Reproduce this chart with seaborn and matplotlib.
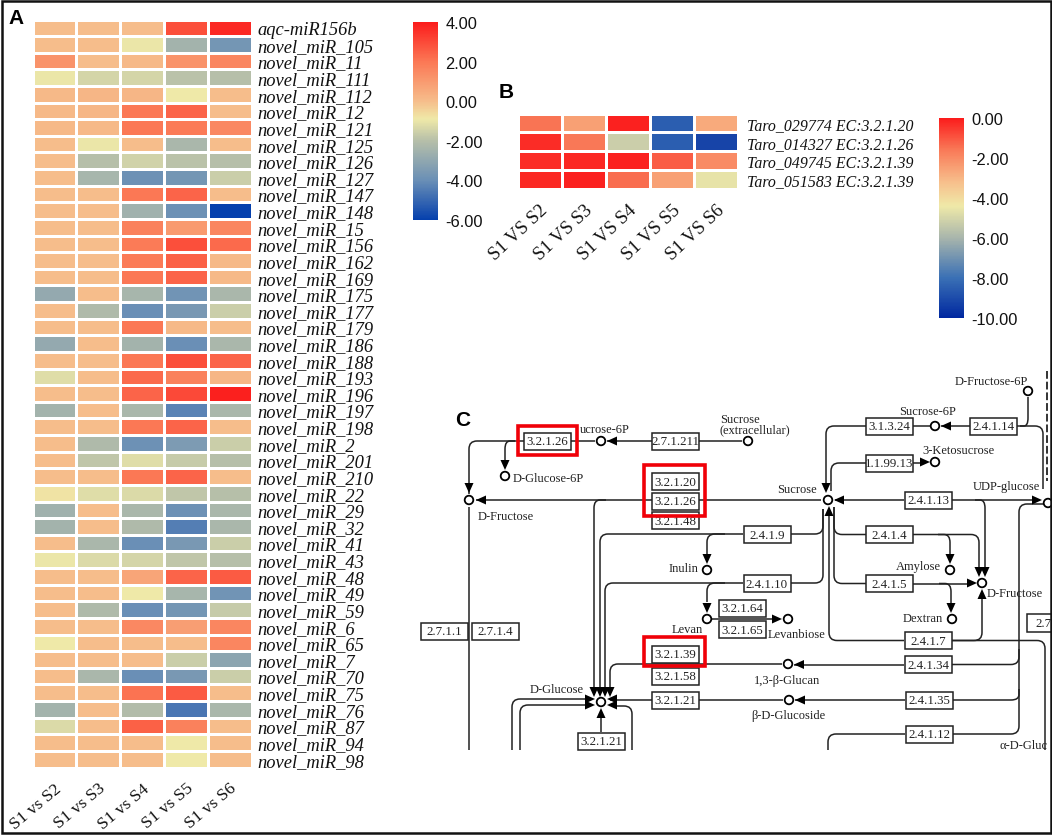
import matplotlib.pyplot as plt
import pandas as pd
import seaborn as sns
from matplotlib.colors import LinearSegmentedColormap
from matplotlib.patches import Circle, PathPatch, Polygon, Rectangle
from matplotlib.path import Path

W, H = 1052, 837

mirnas = ["aqc-miR156b"] + ["novel_miR_" + n for n in [
    "105", "11", "111", "112", "12", "121", "125", "126", "127", "147", "148", "15", "156", "162",
    "169", "175", "177", "179", "186", "188", "193", "196", "197", "198", "2", "201", "210", "22",
    "29", "32", "41", "43", "48", "49", "59", "6", "65", "7", "70", "75", "76", "87", "94", "98"]]
mirna_cols = ["S1 vs S2", "S1 vs S3", "S1 vs S4", "S1 vs S5", "S1 vs S6"]
s2 = [0, 0, 1.2, -1, .1, .1, .1, 0, 0, 0, 0, 0, 0, 0, 0, 0, -2.9, 0, 0, -2.9, 0, -1.2, 0, -2.5, 0, 0, 0, 0, -.8,
      -2.6, -2.5, 0, -1, 0, 0, 0, 0, -.9, 0, 0, 0, -2.5, -1.3, 0, 0]
s3 = [0, 0, 0, -1.4, .2, .2, .1, -1, -2, -2.4, 0, 0, 0, 0, 0, 0, 0, -2.2, 0, 0, 0, 0, 0, 0, 0, -2.2, -1.8, 0, -1.2,
      0, 0, -2.3, -1.3, 0, 0, -2.2, 0, 0, 0, -2.3, 0, 0, 0, 0, 0]
s4 = [0, -1, .1, -1.4, .2, 2, 2, 0, -1.5, -3.9, 2, -2.6, 1.7, 1.9, 1.9, 2, -2.4, -4, 2, -2.5, 2, 2.3, 2.4, -2.3, 2,
      -3.9, -1.2, 2, -1.3, -2.3, -2.2, -4, -1.4, .7, -.9, -4, 1.5, 0, 0, -4, 2.1, -2.1, 2.5, 0, 0]
s5 = [2.9, -2.5, 1.2, -1.9, -.9, 2.4, 1.9, -2.3, -1.9, -3.7, 2.4, -3.9, 1, 2.9, 2.5, 2.4, -3.8, -3.6, .1, -4, 2.9,
      1.7, 3, -4.3, 2.4, -3.5, -1.7, 2.4, -1.8, -3.9, -4.4, -3.6, -1.8, 2.4, -2.4, -3.7, .9, 0, -1.6, -3.6, 2.6,
      -4.6, 1.7, -.9, -.9]
s6 = [3.7, -3.7, 1.6, -2, 0, 0, 1.5, 0, -2, -1.6, 0, -6, 1.6, 2.3, .1, .1, -2.3, -1.6, 0, -2.3, 2.4, .2, 3.9, -2.3,
      0, -1.6, -2, 0, -2, -2.3, -2.3, -1.6, -2, 2.6, -3.8, -1.7, 1.6, 1.6, -3.1, -1.6, 0, -2.3, 0, 0, 0]

genes = ["Taro_029774 EC:3.2.1.20", "Taro_014327 EC:3.2.1.26", "Taro_049745 EC:3.2.1.39", "Taro_051583 EC:3.2.1.39"]
gene_cols = ["S1 VS S2", "S1 VS S3", "S1 VS S4", "S1 VS S5", "S1 VS S6"]
g2 = [-1.5, -.3, -.3, -.2]
g3 = [-2.5, -1.6, -.2, -.1]
g4 = [-.1, -5.2, -.1, -1.4]
g5 = [-8.5, -8.5, -1.1, -2.5]
g6 = [-2.7, -9.2, -2.0, -4.6]

# KEGG map of panel C, in pixels of the reference
enzymes = [
    ("3.2.1.26", 547.5, 442), ("2.7.1.211", 675.5, 442), ("3.2.1.20", 675.5, 482.5), ("3.2.1.26", 675.5, 502),
    ("3.2.1.48", 675.5, 521.5), ("2.7.1.1", 444, 632), ("2.7.1.4", 495.5, 632), ("3.2.1.39", 675.5, 655),
    ("3.2.1.58", 675.5, 677), ("3.2.1.21", 675.5, 701), ("3.2.1.21", 601.5, 742), ("3.2.1.64", 742.5, 609),
    ("3.2.1.65", 742.5, 630.5), ("3.1.3.24", 889.5, 427), ("2.4.1.14", 993.5, 427), ("1.1.99.13", 889.5, 464),
    ("2.4.1.13", 928, 501), ("2.4.1.9", 767, 535.5), ("2.4.1.4", 889.5, 535.5), ("2.4.1.10", 767, 584.5),
    ("2.4.1.5", 889.5, 584.5), ("2.4.1.7", 928, 641.5), ("2.4.1.34", 928, 665.5), ("2.4.1.35", 929, 701),
    ("2.4.1.12", 929, 735),
]
compounds = [
    (601, 442), (505, 477), (469, 501), (748, 442), (828, 501), (935, 427), (935, 463), (1028, 392), (1048, 504),
    (707, 571), (950, 571), (982, 584), (952, 620), (707, 620), (788, 620), (788, 665), (789, 701), (601, 703),
]
compound_labels = [
    ("ucrose-6P", 580, 430, "left"), ("D-Glucose-6P", 513, 479, "left"), ("D-Fructose", 478, 517, "left"),
    ("Sucrose\n(extracellular)", 720, 425, "left"), ("Sucrose", 817, 490, "right"), ("Sucrose-6P", 928, 412, "center"),
    ("3-Ketosucrose", 922, 451, "left"), ("D-Fructose-6P", 1028, 382, "right"), ("UDP-glucose", 973, 487, "left"),
    ("Inulin", 698, 569, "right"), ("Amylose", 941, 567, "right"), ("D-Fructose", 987, 594, "left"),
    ("Dextran", 943, 619, "right"), ("Levan", 672, 630, "left"), ("Levanbiose", 768, 635, "left"),
    ("1,3-β-Glucan", 787, 681, "center"), ("β-D-Glucoside", 788, 716, "center"), ("D-Glucose", 584, 690, "right"),
    ("α-D-Gluc", 999, 746, "left"),
]
wires = [
    [(469, 495), (469, 442), (524, 442)], [(571, 442), (595, 442)], [(515, 442), (505, 442), (505, 465)],
    [(699, 442), (742, 442)], [(607, 442), (652, 442)], [(476, 501), (821, 501)], [(469, 508), (469, 751)],
    [(594, 692), (594, 501), (606, 501)], [(600, 692), (600, 535), (743, 535)], [(605, 692), (605, 584), (743, 584)],
    [(610, 692), (610, 665), (782, 665)], [(791, 535), (823, 535), (823, 510)], [(791, 584), (823, 584), (823, 510)],
    [(829, 510), (829, 641.5), (904, 641.5)], [(834, 508), (834, 535.5), (866, 535.5)],
    [(834, 508), (834, 584.5), (866, 584.5)], [(866, 427), (826, 427), (826, 488)], [(866, 464), (831, 464), (831, 492)],
    [(913, 464), (925, 464)], [(913, 427), (930, 427)], [(941, 427), (970, 427)], [(1017, 427), (1043, 427), (1043, 490)],
    [(1020, 427), (1028, 427), (1028, 398)], [(835, 501), (904, 501)], [(952, 501), (1036, 501)],
    [(975, 501), (985, 501), (985, 570)], [(913, 535.5), (979, 535.5), (979, 570)], [(938, 535.5), (950, 535.5), (950, 558)],
    [(913, 584.5), (970, 584.5)], [(939, 584.5), (951, 584.5), (951, 606)], [(952, 641.5), (982, 641.5), (982, 595)],
    [(952, 641.5), (1045, 641.5), (1045, 751)], [(905, 735), (828, 735), (828, 751)],
    [(953, 735), (1019, 735), (1019, 505), (1046, 505)], [(952, 665.5), (1019, 665.5), (1019, 650)],
    [(953, 701), (1019, 701), (1019, 690)], [(794, 665.5), (904, 665.5)], [(795, 701), (905, 701)], [(699, 701), (783, 701)],
    [(610, 701), (652, 701)], [(601, 733), (601, 712)], [(512, 751), (512, 700), (590, 700)], [(520, 751), (520, 706), (590, 706)],
    [(632, 751), (632, 707), (612, 707)], [(707, 603), (707, 584), (725, 584)], [(707, 555), (707, 535), (725, 535)],
    [(712, 620), (775, 620)],
]
arrows = [
    (469, 494, "down"), (476, 501, "left"), (607, 442, "left"), (505, 471, "down"), (594, 698, "down"), (600, 698, "down"),
    (605, 698, "down"), (610, 698, "down"), (595, 700, "right"), (595, 706, "right"), (607, 700, "left"), (607, 706, "left"),
    (601, 709, "up"), (834, 501, "left"), (941, 427, "left"), (930, 463, "right"), (826, 494, "down"), (829, 507, "up"),
    (1042, 501, "right"), (707, 565, "down"), (707, 614, "down"), (950, 565, "down"), (951, 614, "down"), (979, 578, "down"),
    (985, 578, "down"), (977, 584, "right"), (982, 590, "up"), (782, 620, "right"), (794, 665.5, "left"), (795, 701, "left"),
]
red_boxes = [(517.7, 426.5, 59.3, 29.5), (644, 466, 61, 51), (644, 638, 61, 29)]


def make_cmap(nodes):
    return LinearSegmentedColormap.from_list("heat", nodes)


def px_axes(fig, left, top, right, bottom):
    return fig.add_axes([left / W, 1 - bottom / H, (right - left) / W, (bottom - top) / H])


def heatmap_panel(fig, data, box, cbar_box, cmap, vmin, vmax, ticks, y_pad, y_size, x_size, x_rot):
    ax = px_axes(fig, *box)
    cax = px_axes(fig, *cbar_box)
    sns.heatmap(data, ax=ax, cbar_ax=cax, cmap=cmap, vmin=vmin, vmax=vmax, linewidths=0.9, linecolor="white",
                cbar_kws={"ticks": ticks, "format": "%.2f"})
    ax.yaxis.tick_right()
    ax.set_yticks([i + 0.5 for i in range(len(data))], data.index, rotation=0, family="Liberation Serif",
                  style="italic", fontsize=y_size, color="#111111")
    ax.tick_params(axis="both", length=0)
    ax.tick_params(axis="y", pad=y_pad)
    ax.set_xticklabels(data.columns, rotation=x_rot, ha="right", rotation_mode="anchor", family="Liberation Serif",
                       fontsize=x_size, color="#111111")
    ax.tick_params(axis="x", pad=9)
    cax.tick_params(length=0, pad=5.5, labelsize=11.8, labelcolor="#111111")
    for label in cax.get_yticklabels():
        label.set_family("Liberation Sans")
    ax.collections[0].colorbar.outline.set_visible(False)


def wire_path(points, r=8):
    verts = [points[0]]
    codes = [Path.MOVETO]
    for i in range(1, len(points) - 1):
        (x0, y0), (x1, y1), (x2, y2) = points[i - 1], points[i], points[i + 1]
        d0 = max(abs(x1 - x0), abs(y1 - y0))
        d1 = max(abs(x2 - x1), abs(y2 - y1))
        a = min(r, d0 / 2) / d0
        b = min(r, d1 / 2) / d1
        verts += [(x1 - (x1 - x0) * a, y1 - (y1 - y0) * a), (x1, y1), (x1 + (x2 - x1) * b, y1 + (y2 - y1) * b)]
        codes += [Path.LINETO, Path.CURVE3, Path.CURVE3]
    verts.append(points[-1])
    codes.append(Path.LINETO)
    return Path(verts, codes)


def draw_pathway(ax):
    for points in wires:
        ax.add_patch(PathPatch(wire_path(points), fill=False, ec="#222222", lw=1.1, zorder=2))
    for name, x, y in enzymes:
        ax.add_patch(Rectangle((x - 23.5, y - 8.5), 47, 17, fc="white", ec="#222222", lw=1.1, zorder=3))
        ax.text(x, y + 0.3, name, ha="center", va="center", family="Liberation Serif", fontsize=9.3, color="#222222",
                zorder=4)
    # box cut by the right edge of the map
    ax.add_patch(Rectangle((1027, 615), 30, 18, fc="white", ec="#222222", lw=1.1, zorder=3))
    ax.text(1035, 624.3, "2.7", ha="left", va="center", family="Liberation Serif", fontsize=9.3, color="#222222", zorder=4)
    shapes = {"down": [(0, 0), (-4.5, -10), (4.5, -10)], "up": [(0, 0), (-4.5, 10), (4.5, 10)],
              "left": [(0, 0), (10, -4.5), (10, 4.5)], "right": [(0, 0), (-10, -4.5), (-10, 4.5)]}
    for x, y, way in arrows:
        ax.add_patch(Polygon([(x + dx, y + dy) for dx, dy in shapes[way]], fc="black", ec="none", zorder=4))
    for x, y in compounds:
        ax.add_patch(Circle((x, y), 4.3, fc="white", ec="black", lw=1.3, zorder=5))
    for name, x, y, ha in compound_labels:
        ax.text(x, y, name, ha=ha, va="center", family="Liberation Serif", fontsize=9, color="#222222", zorder=4,
                linespacing=0.85)
    for x, y, w, h in red_boxes:
        ax.add_patch(Rectangle((x, y), w, h, fill=False, ec="#f00008", lw=2.6, zorder=6))
    ax.plot([1047, 1047], [372, 482], color="#333333", lw=1.4, ls=(0, (4, 1.5)), zorder=5)


def main():
    sns.set_theme(style="white")
    fig = plt.figure(figsize=(W / 100, H / 100), dpi=100, facecolor="white")

    mirna_df = pd.DataFrame(dict(zip(mirna_cols, [s2, s3, s4, s5, s6])), index=mirnas)
    gene_df = pd.DataFrame(dict(zip(gene_cols, [g2, g3, g4, g5, g6])), index=genes)

    cmap_a = make_cmap([(0, "#0540ad"), (.2, "#6a8fb6"), (.4, "#b6bfa9"), (.51, "#efe9a8"), (.6, "#f6bd8b"),
                        (.8, "#fb7855"), (1, "#fb1c1c")])
    cmap_b = make_cmap([(0, "#0028a0"), (.2, "#3a70b5"), (.4, "#a8b5ac"), (.56, "#efe9a8"), (.68, "#f7bf8c"),
                        (.84, "#f97a58"), (1, "#fb1c1c")])

    heatmap_panel(fig, mirna_df, (32.5, 20.5, 251.5, 768.5), (412.5, 23, 437.5, 221), cmap_a, -6, 4,
                  [-6, -4, -2, 0, 2, 4], 4.5, 13.3, 12.5, 40)
    heatmap_panel(fig, gene_df, (517.5, 114.5, 738.5, 189.5), (939, 119, 963.5, 319), cmap_b, -10, 0,
                  [-10, -8, -6, -4, -2, 0], 6, 11.45, 13.5, 43)

    overlay = fig.add_axes([0, 0, 1, 1], facecolor="none")
    overlay.set_xlim(0, W)
    overlay.set_ylim(H, 0)
    overlay.axis("off")

    draw_pathway(overlay)

    for name, x, y in [("A", 16, 18), ("B", 506, 92), ("C", 463, 420)]:
        overlay.text(x, y, name, ha="center", va="center", family="Liberation Sans", weight="bold", fontsize=15,
                     color="black")
    overlay.add_patch(Rectangle((2, 2), W - 3, H - 5, fill=False, ec="#111111", lw=1.8, zorder=8))

    fig.savefig("out.png", dpi=100, facecolor="white")


if __name__ == "__main__":
    main()
